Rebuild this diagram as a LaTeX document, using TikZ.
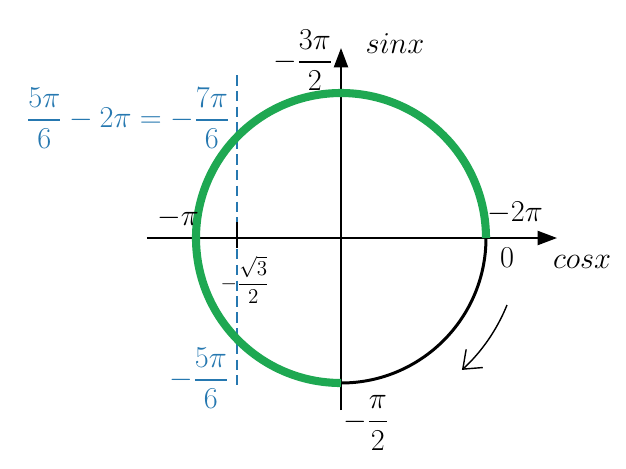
\documentclass[tikz,border=0pt]{standalone}
\usepackage{amsmath}
\usepackage{amssymb}
\usepackage{tikz}
\usetikzlibrary{arrows.meta}
\usetikzlibrary{positioning}
\definecolor{arcgreen}{RGB}{30,168,82}
\definecolor{noteblue}{RGB}{38,120,176}
\tikzset{
  axis/.style = {line width=1.1pt, -{Triangle[length=11pt,width=8pt]}},
  lbl/.style = {inner sep=1pt, font=\fontsize{16}{19}\selectfont},
  bluelbl/.style = {lbl, text=noteblue},
  axlbl/.style = {inner sep=1pt, font=\fontsize{19}{22}\selectfont},
}

\begin{document}
\begin{tikzpicture}[x=0.02cm, y=0.02cm]
    \useasboundingbox (-341,-230) rectangle (285,238);

    \coordinate (O) at (0,0);
    \coordinate (xmin) at (-194,0);
    \coordinate (xmax) at (216,0);
    \coordinate (ymin) at (0,-172);
    \coordinate (ymax) at (0,190);

    % axes
    \draw[axis] (xmin) -- (xmax);
    \draw[axis] (ymin) -- (ymax);

    % dashed line at -sqrt(3)/2
    \draw[noteblue, line width=0.9pt, dash pattern=on 6pt off 3pt] (-104,163) -- (-104,-147);
    \draw[line width=1.6pt] (-104,-10) -- (-104,16);

    % the circle: black part, then green part
    \draw[line width=1.7pt] (0,-145) arc[start angle=270, end angle=360, radius=145];
    \draw[arcgreen, line width=4.6pt] (145,0) arc[start angle=0, end angle=270, radius=145];

    % direction of travel
    \draw[line width=0.8pt, -{Straight Barb[length=9pt,width=14pt]}]
      (166,-67) arc[start angle=-22, end angle=-47.5, radius=179];

    % labels
    \node[axlbl] (sinlbl) at (54,194) {$sinx$};
    \node[axlbl] (coslbl) at (241,-24) {$cosx$};
    \node[lbl] (zero) at (166,-20) {$0$};
    \node[lbl] (mtwopi) at (174,25) {$-2\pi$};
    \node[lbl] (mpi) at (-163,20) {$-\pi$};
    \node[lbl, anchor=east] (mthreehalf) at (-6,178) {$-\dfrac{3\pi}{2}$};
    \node[lbl] (mhalf) at (25,-185) {$-\dfrac{\pi}{2}$};
    \node[inner sep=1pt, font=\fontsize{12}{14}\selectfont] (msqrt) at (-96,-42) {$-\dfrac{\sqrt{3}}{2}$};
    \node[bluelbl, anchor=east] (mfivesix) at (-110,-140) {$-\dfrac{5\pi}{6}$};
    \node[bluelbl, anchor=east] (sevensix) at (-109,120) {$\dfrac{5\pi}{6}-2\pi=-\dfrac{7\pi}{6}$};
\end{tikzpicture}
\end{document}
